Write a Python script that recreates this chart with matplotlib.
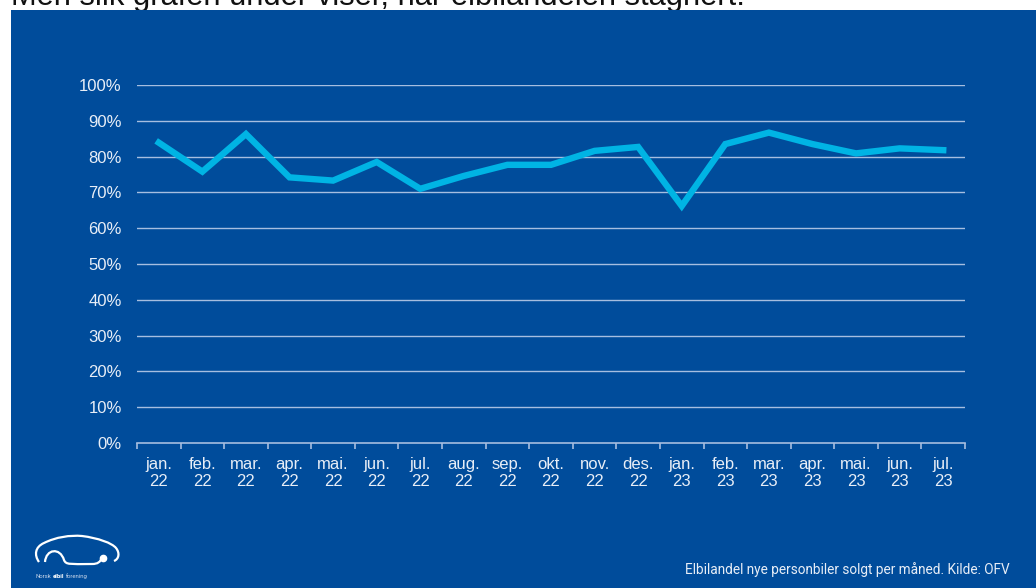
import matplotlib
matplotlib.use("Agg")
import matplotlib.pyplot as plt
from matplotlib.path import Path
from matplotlib.patches import PathPatch
import numpy as np

months = ["jan.", "feb.", "mar.", "apr.", "mai.", "jun.", "jul.", "aug.", "sep.", "okt.",
          "nov.", "des.", "jan.", "feb.", "mar.", "apr.", "mai.", "jun.", "jul."]
years = ["22"] * 12 + ["23"] * 7
share = [83.9, 75.8, 86.3, 74.2, 73.3, 78.5, 71.0, 74.6, 77.7, 77.7,
         81.6, 82.7, 66.2, 83.5, 86.7, 83.5, 80.9, 82.3, 81.8]
yticks = [0, 10, 20, 30, 40, 50, 60, 70, 80, 90, 100]

W, H = 1036, 588
BG = "#004C9B"
LINE = "#00B4E4"
TXT = "#E8EEF7"
GRID = "#A6BEE0"

fig = plt.figure(figsize=(W / 100, H / 100), dpi=100)
fig.patch.set_facecolor("white")
bgax = fig.add_axes([11 / W, 0, 1 - 11 / W, (H - 10) / H], zorder=-5)
bgax.set_facecolor(BG)
bgax.set_xticks([])
bgax.set_yticks([])
for s in bgax.spines.values():
    s.set_visible(False)

fig.text(11 / W, (H - 5) / H, "Men slik grafen under viser, har elbilandelen stagnert.",
         fontsize=22.2, family="Liberation Sans", color="#111111", va="baseline", ha="left",
         zorder=-10)

ax = fig.add_axes([137 / W, 145 / H, (965 - 137) / W, (443 - 85) / H], zorder=2)
ax.set_facecolor("none")
x = np.arange(len(share))
ax.plot(x, share, color=LINE, lw=4.6, solid_joinstyle="miter", zorder=3)
ax.set_xlim(-0.5, len(share) - 0.5)
ax.set_ylim(0, 100)
ax.set_yticks(yticks)
ax.set_yticklabels([f"{v}%" for v in yticks])
ax.set_xticks(x)
ax.set_xticklabels([f"{m}\n{y}" for m, y in zip(months, years)], linespacing=1.2)
ax.set_xticks(np.arange(-0.5, len(share)), minor=True)
for s in ["top", "right", "left"]:
    ax.spines[s].set_visible(False)
ax.spines["bottom"].set_color(GRID)
ax.spines["bottom"].set_linewidth(1.2)
ax.tick_params(axis="x", which="major", length=0, pad=10, colors=TXT, labelsize=12)
ax.tick_params(axis="x", which="minor", length=4, width=1.2, color=GRID)
ax.tick_params(axis="y", length=0, pad=11, colors=TXT, labelsize=12)
for lab in ax.get_xticklabels() + ax.get_yticklabels():
    lab.set_family("Liberation Sans")
for v in yticks[1:]:
    ax.axhline(v, color=GRID, lw=1.0, zorder=1)

fig.text(1010 / W, (H - 570) / H, "Elbilandel nye personbiler solgt per måned. Kilde: OFV",
         fontsize=9.8, family="Roboto", color=TXT, ha="right", va="center")

# logo (car outline), pixel coordinates
lx = fig.add_axes([0, 0, 1, 1], zorder=3)
lx.set_xlim(0, W)
lx.set_ylim(H, 0)
lx.axis("off")
body = Path([(39, 562), (34, 555), (35, 547), (44, 543),
             (56, 537), (70, 535), (82, 536),
             (98, 538), (112, 543), (116, 548),
             (120, 553), (119, 559), (114, 561)],
            [Path.MOVETO, Path.CURVE4, Path.CURVE4, Path.CURVE4,
             Path.CURVE4, Path.CURVE4, Path.CURVE4,
             Path.CURVE4, Path.CURVE4, Path.CURVE4,
             Path.CURVE4, Path.CURVE4, Path.CURVE4])
lx.add_patch(PathPatch(body, facecolor="none", edgecolor="white", lw=1.6))
arch = Path([(45, 562), (46, 549), (60, 547), (64, 560),
             (66, 565), (70, 564), (92, 564),
             (98, 564), (100, 562), (102, 558)],
            [Path.MOVETO, Path.CURVE4, Path.CURVE4, Path.CURVE4,
             Path.CURVE4, Path.CURVE4, Path.CURVE4,
             Path.CURVE4, Path.CURVE4, Path.CURVE4])
lx.add_patch(PathPatch(arch, facecolor="none", edgecolor="white", lw=1.6))
lx.plot([102.5], [557.5], "o", color="white", ms=4.5)
lx.text(36, 576, "Norsk", color="#C8D6EA", fontsize=4.3, family="Roboto", va="center")
lx.text(53, 576, "elbil", color="white", fontsize=4.3, family="Roboto", weight="bold",
        va="center")
lx.text(66, 576, "forening", color="#C8D6EA", fontsize=4.3, family="Roboto", va="center")

fig.savefig("out.png", dpi=100, facecolor=fig.get_facecolor())
